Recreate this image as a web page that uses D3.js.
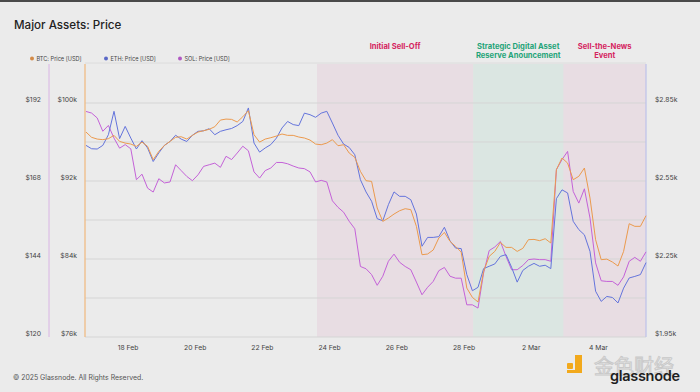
<!DOCTYPE html>
<html><head><meta charset="utf-8">
<script src="https://cdn.jsdelivr.net/npm/d3@7"></script>
<style>
body{margin:0;background:#ebebeb;}
svg{display:block;font-family:Inter,"Noto Sans",sans-serif;}
</style>
</head><body>
<svg id="c" width="700" height="392"></svg>
<script>
// ---- data ----
const startTime = "2025-02-16T18:00:00Z";
const stepHours = 4;
const seriesNames = ["BTC: Price [USD]", "ETH: Price [USD]", "SOL: Price [USD]"];
// BTC in thousands of USD
const btc = [97.02,96.48,96.30,96.24,96.34,96.68,96.06,95.89,95.79,95.55,
95.99,95.55,94.18,95.04,95.65,96.06,96.48,96.54,96.30,96.68,
97.02,97.16,97.30,97.57,98.25,98.35,98.32,98.05,98.59,99.21,
96.75,95.99,96.30,96.44,96.61,96.82,96.68,96.68,96.51,96.41,
96.20,95.79,95.72,95.89,96.24,95.62,95.72,94.87,94.42,92.99,
92.03,91.96,89.23,87.86,88.20,88.61,88.95,89.16,89.06,87.35,
84.44,84.51,84.92,86.15,86.73,85.81,85.29,84.71,81.02,80.06,
79.59,82.73,84.27,84.78,85.70,85.19,85.19,84.78,85.09,85.98,
86.01,85.88,86.08,85.64,93.16,94.36,93.84,92.13,92.48,93.33,
90.25,85.98,83.93,83.99,83.69,83.28,84.78,87.62,87.35,87.35,
88.44];
const eth = [2687,2674,2673,2687,2728,2818,2713,2760,2715,2673,
2705,2677,2625,2658,2687,2702,2726,2711,2702,2726,
2741,2743,2751,2728,2741,2747,2752,2763,2779,2831,
2696,2661,2677,2690,2715,2754,2779,2767,2763,2811,
2805,2795,2811,2818,2773,2726,2692,2679,2651,2555,
2508,2472,2405,2397,2459,2508,2491,2491,2478,2423,
2299,2333,2333,2336,2372,2320,2292,2290,2190,2128,
2141,2213,2222,2231,2260,2267,2218,2161,2206,2222,
2233,2222,2226,2213,2482,2516,2504,2395,2363,2343,
2279,2126,2087,2106,2102,2081,2138,2177,2183,2190,
2236];
const sol = [189.4,188.9,187.4,183.3,185.1,181.2,178.1,179.2,177.9,168.4,
170.1,165.8,164.6,168.7,167.4,167.7,173.0,171.2,169.4,168.1,
169.9,172.5,173.0,173.5,172.2,175.6,174.6,176.6,178.7,177.3,
170.8,168.9,171.2,172.0,173.7,173.7,173.3,172.6,172.0,171.8,
170.8,167.7,168.2,167.7,161.9,159.9,158.4,155.6,153.3,141.7,
141.0,139.2,135.9,138.7,143.3,145.5,143.0,141.7,140.7,136.9,
133.0,135.3,137.1,140.4,141.4,138.7,138.1,138.1,129.9,129.9,
128.9,139.7,146.6,147.7,149.4,144.8,140.7,140.7,142.0,143.8,
144.0,143.8,143.8,143.3,171.5,174.6,177.1,164.8,161.2,165.6,
156.6,142.8,137.3,137.1,137.1,135.9,138.5,143.3,144.5,143.3,
146.2];
const btcTicks = [76, 84, 92, 100];
const btcGrid = [76, 80, 84, 88, 92, 96, 100];
const ethTicks = [1950, 2250, 2550, 2850];
const solTicks = [120, 144, 168, 192];
const dateTicks = ["2025-02-18","2025-02-20","2025-02-22","2025-02-24","2025-02-26","2025-02-28","2025-03-02","2025-03-04"];
const periodLabels = [["Initial Sell-Off"], ["Strategic Digital Asset","Reserve Anouncement"], ["Sell-the-News","Event"]];
const periodStarts = ["2025-02-23T15:00:00Z","2025-02-28T06:30:00Z","2025-03-02T23:00:00Z"];
const periodEnds   = ["2025-02-28T06:30:00Z","2025-03-02T23:00:00Z","2025-03-05T10:00:00Z"];

// ---- layout ----
const svg = d3.select("#c");
const L = 85, R = 646, T = 64, B = 337;
const t0 = new Date(startTime).getTime();
const times = btc.map((_, i) => new Date(t0 + i * stepHours * 3600e3));

const x = d3.scaleUtc().domain([new Date("2025-02-16T17:17:00Z"), new Date("2025-03-05T10:00:00Z")]).range([L, R]);
const yB = d3.scaleLinear().domain([76, 104]).range([B, T]);
const yE = d3.scaleLinear().domain([1950, 3000]).range([B, T]);
const yS = d3.scaleLinear().domain([120, 204]).range([B, T]);

const colBTC = "#eb9a4e", colETH = "#6474dc", colSOL = "#c462d8";

svg.append("rect").attr("width",700).attr("height",392).attr("fill","#ebebeb");
svg.append("rect").attr("width",700).attr("height",2).attr("fill","#4a4a4a");

// title
svg.append("text").attr("x",14).attr("y",29).attr("font-size",11.6).attr("font-weight",500)
  .attr("fill","#222").text("Major Assets: Price");

// legend
const legCols = [colBTC, colETH, colSOL].map(c => d3.color(c).darker(0.3));
const legX = [32, 106, 180];
seriesNames.forEach((n, i) => {
  svg.append("circle").attr("cx", legX[i]).attr("cy", 58.5).attr("r", 2).attr("fill", legCols[i]);
  svg.append("text").attr("x", legX[i] + 4.5).attr("y", 60.5).attr("font-size", 5.6).attr("fill","#444").text(n);
});

// shaded periods
const pColors = ["rgba(225,175,200,0.22)","rgba(150,210,190,0.18)","rgba(225,175,200,0.22)"];
const tColors = ["#d5245f","#1fa478","#d5245f"];
periodStarts.forEach((s, i) => {
  const x0 = x(new Date(s)), x1 = x(new Date(periodEnds[i]));
  svg.append("rect").attr("x", x0).attr("y", T).attr("width", x1 - x0).attr("height", B - T).attr("fill", pColors[i]);
  const tx = svg.append("text").attr("x", (x0 + x1) / 2).attr("y", 49).attr("text-anchor","middle")
    .attr("font-size", 7.6).attr("font-weight", 700).attr("fill", tColors[i]);
  periodLabels[i].forEach((l, j) => tx.append("tspan").attr("x",(x0 + x1) / 2).attr("dy", j ? 9.3 : 0).text(l));
});

// top border line
svg.append("line").attr("x1",L).attr("x2",R).attr("y1",T-1).attr("y2",T-1).attr("stroke","#dcdcdc");

// gridlines
svg.append("g").selectAll("line").data(btcGrid).join("line")
  .attr("x1", L).attr("x2", R).attr("y1", d => yB(d)).attr("y2", d => yB(d))
  .attr("stroke", "#d5d5d5").attr("stroke-width", 1);

// axes lines
svg.append("line").attr("x1",L).attr("x2",L).attr("y1",T).attr("y2",B).attr("stroke","#f0b77c").attr("stroke-width",1.2);
svg.append("line").attr("x1",49).attr("x2",49).attr("y1",T).attr("y2",B).attr("stroke","#d9b4e4").attr("stroke-width",1);
svg.append("line").attr("x1",R).attr("x2",R).attr("y1",T).attr("y2",B).attr("stroke","#bcc2ea").attr("stroke-width",1.2);

// axis labels
const lab = (g, vals, scale, xx, anchor, fmt) => g.selectAll("text").data(vals).join("text")
  .attr("x", xx).attr("y", d => scale(d) - 1).attr("text-anchor", anchor)
  .attr("font-size", 6.8).attr("fill", "#444").text(fmt);
lab(svg.append("g"), btcTicks, yB, 77, "end", d => "$" + d + "k");
lab(svg.append("g"), solTicks, yS, 41, "end", d => "$" + d);
lab(svg.append("g"), ethTicks, yE, 655, "start", d => "$" + (d / 1000).toFixed(2) + "k");

// x axis
const fmt = d3.utcFormat("%-d %b");
svg.append("g").selectAll("text").data(dateTicks).join("text")
  .attr("x", d => x(new Date(d + "T00:00:00Z"))).attr("y", 350).attr("text-anchor","middle")
  .attr("font-size", 6.8).attr("fill", "#444").text(d => fmt(new Date(d + "T00:00:00Z")));

// lines
const mk = (arr, y) => d3.line().x((d, i) => x(times[i])).y(d => y(d))(arr);
svg.append("path").attr("d", mk(sol, yS)).attr("fill","none").attr("stroke",colSOL).attr("stroke-width",1).attr("stroke-linejoin","round");
svg.append("path").attr("d", mk(eth, yE)).attr("fill","none").attr("stroke",colETH).attr("stroke-width",1).attr("stroke-linejoin","round");
svg.append("path").attr("d", mk(btc, yB)).attr("fill","none").attr("stroke",colBTC).attr("stroke-width",1).attr("stroke-linejoin","round");

// footer
svg.append("text").attr("x",13).attr("y",380).attr("font-size",6.9).attr("fill","#555").text("© 2025 Glassnode. All Rights Reserved.");
// logo
svg.append("rect").attr("x",567).attr("y",363).attr("width",6).attr("height",6).attr("fill","#f2a91c").attr("rx",1);
svg.append("path").attr("d","M575,355 H582 V373 H567 V370 H575 Z").attr("fill","#f2a91c");
svg.append("text").attr("x",594).attr("y",374).attr("font-size",20).attr("font-family","'Noto Sans CJK SC'")
  .attr("fill","none").attr("stroke","#c8c8c8").attr("stroke-width",0.9).text("金色财经");
svg.append("text").attr("x",610).attr("y",381).attr("font-size",14.5).attr("font-weight",600).attr("letter-spacing",-0.3)
  .attr("fill","#1f1f1f").text("glassnode");
</script>
</body></html>
